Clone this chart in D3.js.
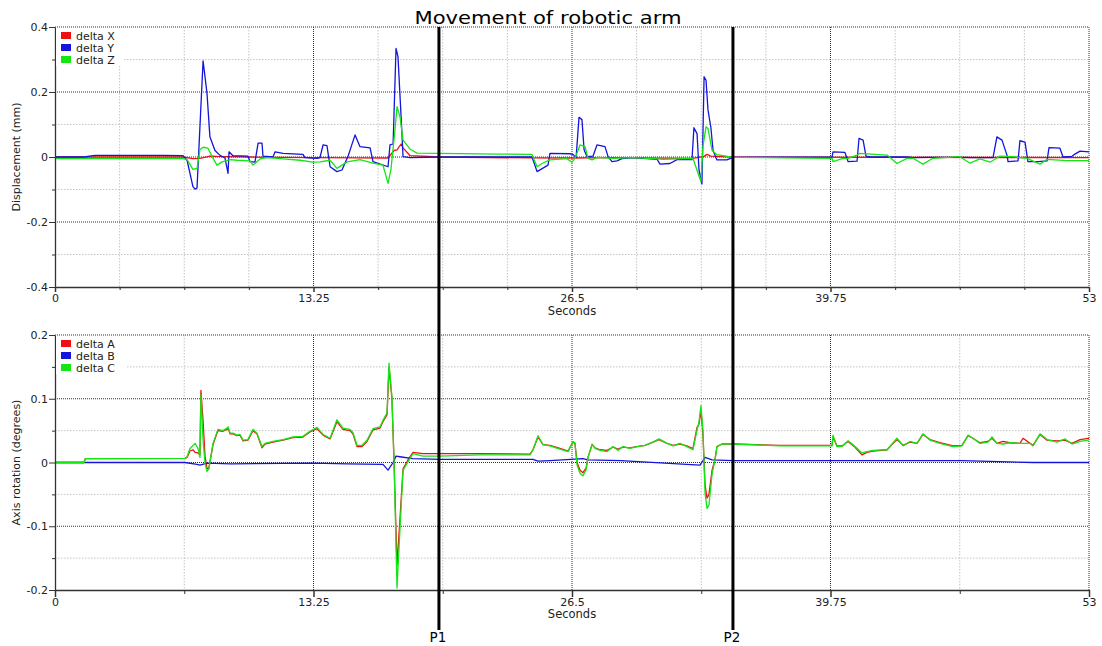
<!DOCTYPE html>
<html>
<head>
<meta charset="utf-8">
<script src="https://cdn.jsdelivr.net/npm/d3@7"></script>
<style>
  body { margin: 0; background: #fff; }
  svg { display: block; font-family: "DejaVu Sans", sans-serif; }
</style>
</head>
<body>
<svg id="svg" width="1102" height="646"></svg>
<script>
// time in seconds, value
var deltaX = [[0,0],[6.56,0],[7.07,-0.005],[7.43,-0.004],[7.94,0.003],[8.30,0.002],[9.99,0],[13.22,-0.002],[15.63,-0.003],[17.07,-0.003],[17.38,0.02],[17.53,0.022],[17.74,0.04],[17.84,0.028],[18.20,0.004],[19.73,0],[24.45,-0.003],[26.50,-0.003],[28.60,-0.002],[32.70,-0.004],[33.27,0.002],[33.42,0.008],[33.62,0.003],[34.75,0],[53,-0.002]];
var deltaY = [[0,0],[1.49,0],[2.05,0.005],[5.54,0.005],[6.56,0.004],[6.77,-0.01],[7.07,-0.091],[7.18,-0.099],[7.28,-0.095],[7.59,0.296],[7.79,0.197],[7.94,0.062],[8.20,0.02],[8.46,0.005],[8.71,-0.003],[8.87,-0.05],[8.92,0.016],[9.12,0.004],[9.89,0.003],[9.99,-0.014],[10.25,-0.016],[10.41,0.043],[10.61,0.043],[10.66,0.003],[11.17,0.0],[11.28,0.016],[11.69,0.011],[12.71,0.008],[12.81,-0.002],[13.43,-0.004],[13.58,-0.002],[13.74,0.037],[13.94,0.035],[14.10,-0.03],[14.45,-0.045],[14.71,-0.04],[15.02,0.002],[15.38,0.068],[15.63,0.032],[16.15,0.028],[16.30,-0.014],[17.07,-0.03],[17.17,0.037],[17.33,0.04],[17.48,0.334],[17.58,0.309],[17.74,0.124],[17.84,0.001],[18.20,-0.002],[19.73,0],[24.45,0],[24.71,-0.045],[25.27,-0.025],[25.37,0.011],[26.40,0.01],[26.55,0.008],[26.71,-0.002],[26.86,0.122],[27.01,0.115],[27.12,0.022],[27.27,0.001],[27.58,0.003],[27.78,0.037],[28.19,0.032],[28.35,0.001],[28.55,-0.014],[28.81,-0.012],[29.06,-0.005],[29.63,-0.002],[30.34,-0.005],[30.86,-0.007],[31.01,-0.022],[31.52,-0.02],[31.88,-0.008],[32.65,-0.008],[32.75,0.09],[32.91,0.072],[33.01,-0.04],[33.16,-0.083],[33.27,0.247],[33.37,0.236],[33.47,0.145],[33.62,0.09],[33.73,0.02],[33.93,-0.009],[34.44,-0.009],[34.75,-0.001],[39.83,0],[39.88,0.016],[40.49,0.014],[40.65,-0.014],[41.11,-0.013],[41.21,0.057],[41.42,0.052],[41.57,0.003],[41.77,0.0],[43.67,0],[43.98,-0.002],[44.85,-0.001],[46.39,-0.001],[47.05,-0.002],[48.08,-0.002],[48.28,0.062],[48.54,0.052],[48.80,0.005],[48.85,-0.014],[49.36,-0.012],[49.46,0.05],[49.72,0.046],[49.87,-0.014],[50.39,-0.014],[50.85,-0.012],[50.95,0.029],[51.51,0.027],[51.67,0.0],[52.13,0.002],[52.28,0.009],[52.54,0.018],[53,0.016]];
var deltaZ = [[0,-0.005],[1.49,-0.005],[6.56,-0.005],[6.77,-0.008],[7.07,-0.038],[7.28,-0.035],[7.43,0.022],[7.59,0.03],[7.84,0.027],[8.05,0.002],[8.30,-0.025],[8.56,-0.015],[8.97,-0.008],[9.33,-0.01],[9.99,-0.012],[10.15,-0.025],[10.51,-0.006],[10.87,-0.002],[11.69,-0.006],[12.56,-0.01],[13.22,-0.016],[13.58,-0.015],[14.10,-0.01],[14.45,-0.035],[14.97,-0.015],[15.63,-0.008],[16.30,-0.019],[16.81,-0.025],[17.07,-0.081],[17.22,-0.038],[17.43,0.085],[17.53,0.155],[17.68,0.125],[17.84,0.052],[18.20,0.024],[18.56,0.012],[19.73,0.011],[22.81,0.009],[24.45,0.008],[24.71,-0.03],[24.96,-0.02],[25.37,-0.009],[26.24,-0.005],[26.50,-0.016],[26.65,-0.005],[26.91,0.037],[27.17,0.032],[27.32,-0.004],[27.53,-0.009],[27.78,-0.001],[28.60,-0.004],[29.63,-0.002],[30.86,-0.006],[31.16,-0.007],[32.70,-0.004],[32.96,-0.05],[33.11,-0.076],[33.21,0.032],[33.37,0.093],[33.47,0.088],[33.68,0.02],[33.93,0.007],[34.75,-0.001],[39.83,-0.004],[39.88,-0.014],[40.34,-0.005],[40.65,-0.004],[41.11,0.006],[41.26,0.011],[42.65,0.006],[43.16,-0.02],[43.67,-0.004],[43.98,-0.004],[44.49,-0.022],[45.00,-0.004],[46.39,0.001],[46.90,-0.019],[47.41,-0.006],[47.93,-0.016],[48.44,0.003],[49.10,0.001],[49.82,-0.004],[50.49,-0.022],[50.85,-0.007],[51.87,-0.011],[53,-0.011]];

var deltaA = [[0,0],[1.49,0],[1.55,0.006],[6.66,0.0065],[6.77,0.008],[6.92,0.018],[7.07,0.02],[7.18,0.016],[7.33,0.015],[7.43,0.012],[7.48,0.113],[7.59,0.065],[7.69,0.01],[7.79,-0.01],[7.89,-0.008],[8.10,0.028],[8.35,0.05],[8.61,0.049],[8.82,0.052],[8.87,0.054],[8.97,0.045],[9.12,0.045],[9.33,0.042],[9.48,0.043],[9.64,0.034],[9.89,0.035],[10.15,0.05],[10.35,0.045],[10.61,0.023],[10.76,0.029],[11.17,0.032],[11.69,0.035],[12.20,0.039],[12.71,0.04],[13.07,0.048],[13.43,0.053],[13.74,0.043],[14.10,0.037],[14.45,0.064],[14.76,0.052],[15.12,0.05],[15.27,0.045],[15.48,0.025],[15.74,0.025],[15.99,0.033],[16.30,0.051],[16.66,0.054],[16.81,0.064],[17.02,0.075],[17.12,0.15],[17.27,0.1],[17.38,0.0],[17.53,-0.161],[17.68,-0.09],[17.84,-0.01],[18.09,0.004],[18.35,0.016],[18.86,0.014],[19.73,0.014],[21.78,0.014],[24.35,0.013],[24.50,0.02],[24.76,0.04],[25.01,0.028],[25.37,0.027],[25.88,0.022],[26.30,0.018],[26.55,0.032],[26.65,0.03],[26.76,0.0],[26.91,-0.012],[27.06,-0.016],[27.22,-0.009],[27.32,0.008],[27.53,0.028],[27.68,0.023],[27.94,0.02],[28.29,0.019],[28.60,0.024],[28.86,0.021],[29.11,0.024],[29.47,0.023],[29.83,0.025],[30.24,0.027],[30.65,0.032],[30.96,0.036],[31.37,0.03],[31.68,0.027],[32.04,0.029],[32.39,0.026],[32.70,0.022],[32.91,0.055],[33.01,0.06],[33.11,0.082],[33.21,0.045],[33.32,-0.035],[33.42,-0.056],[33.52,-0.05],[33.68,-0.012],[33.83,0.005],[33.93,0.025],[34.19,0.029],[34.75,0.029],[37.16,0.027],[39.83,0.027],[39.88,0.04],[40.08,0.026],[40.34,0.026],[40.65,0.033],[41.01,0.024],[41.36,0.012],[41.62,0.016],[41.93,0.018],[42.65,0.02],[42.90,0.028],[43.16,0.036],[43.47,0.027],[43.82,0.032],[44.18,0.03],[44.49,0.044],[44.85,0.036],[45.36,0.031],[46.03,0.026],[46.49,0.027],[46.80,0.042],[47.05,0.038],[47.41,0.031],[47.82,0.033],[48.03,0.038],[48.28,0.03],[48.59,0.033],[48.95,0.031],[49.46,0.03],[49.62,0.038],[49.98,0.03],[50.13,0.027],[50.49,0.044],[50.85,0.035],[51.36,0.034],[51.77,0.035],[52.13,0.03],[52.54,0.036],[52.95,0.038],[53,0.038]];
var deltaB = [[0,0],[6.66,0],[7.28,-0.003],[7.43,-0.004],[7.79,-0.001],[9.0,-0.002],[13.22,-0.001],[15.0,-0.002],[16.81,-0.003],[17.07,-0.012],[17.33,0.0],[17.48,0.01],[17.68,0.009],[18.35,0.006],[19.73,0.005],[24.50,0.005],[24.76,0.002],[25.37,0.003],[27.06,0.006],[27.32,0.004],[29.0,0.003],[33.06,-0.004],[33.32,0.008],[33.68,0.004],[34.75,0.003],[46.49,0.003],[50.13,0.0],[53,0.0]];
var deltaC = [[0,0],[1.49,0],[1.55,0.006],[6.66,0.0065],[6.77,0.009],[6.92,0.022],[7.18,0.03],[7.33,0.022],[7.43,0.008],[7.48,0.106],[7.59,0.035],[7.69,-0.001],[7.79,-0.014],[7.89,-0.01],[8.10,0.03],[8.35,0.052],[8.61,0.05],[8.82,0.054],[8.87,0.056],[8.97,0.046],[9.12,0.046],[9.33,0.043],[9.48,0.044],[9.64,0.035],[9.89,0.036],[10.15,0.052],[10.35,0.046],[10.61,0.025],[10.76,0.03],[11.17,0.033],[11.69,0.036],[12.20,0.04],[12.71,0.041],[13.07,0.049],[13.43,0.055],[13.74,0.044],[14.10,0.038],[14.45,0.067],[14.76,0.054],[15.12,0.052],[15.27,0.047],[15.48,0.027],[15.74,0.027],[15.99,0.035],[16.30,0.053],[16.66,0.056],[16.81,0.066],[17.02,0.078],[17.12,0.156],[17.27,0.103],[17.38,0.0],[17.53,-0.197],[17.68,-0.106],[17.84,-0.012],[18.09,0.001],[18.35,0.014],[18.86,0.010],[19.73,0.010],[21.78,0.012],[24.35,0.012],[24.50,0.02],[24.76,0.042],[25.01,0.028],[25.37,0.026],[25.88,0.021],[26.30,0.017],[26.55,0.033],[26.65,0.031],[26.76,-0.004],[26.91,-0.017],[27.06,-0.021],[27.22,-0.012],[27.32,0.008],[27.53,0.029],[27.68,0.022],[27.94,0.019],[28.29,0.017],[28.60,0.025],[28.86,0.019],[29.11,0.025],[29.47,0.022],[29.83,0.025],[30.24,0.027],[30.65,0.032],[30.96,0.037],[31.37,0.03],[31.68,0.026],[32.04,0.03],[32.39,0.025],[32.70,0.02],[32.91,0.051],[33.01,0.064],[33.11,0.089],[33.21,0.051],[33.32,-0.048],[33.42,-0.072],[33.52,-0.067],[33.68,-0.018],[33.83,0.004],[33.93,0.025],[34.19,0.029],[34.75,0.029],[37.16,0.026],[39.83,0.026],[39.88,0.043],[40.08,0.025],[40.34,0.025],[40.65,0.034],[41.01,0.025],[41.36,0.015],[41.62,0.017],[41.93,0.019],[42.65,0.02],[42.90,0.029],[43.16,0.038],[43.47,0.026],[43.82,0.033],[44.18,0.03],[44.49,0.045],[44.85,0.035],[45.36,0.03],[46.03,0.025],[46.49,0.026],[46.80,0.043],[47.05,0.038],[47.41,0.03],[47.82,0.032],[48.03,0.04],[48.28,0.03],[48.59,0.029],[48.95,0.031],[49.46,0.03],[49.98,0.03],[50.13,0.026],[50.49,0.045],[50.85,0.036],[51.36,0.032],[51.77,0.037],[52.13,0.029],[52.54,0.033],[52.95,0.035],[53,0.035]];

var xTicks = [0, 13.25, 26.5, 39.75, 53];
var topYTicks = [-0.4, -0.2, 0, 0.2, 0.4];
var botYTicks = [-0.2, -0.1, 0, 0.1, 0.2];
var markers = [['P1', 19.68], ['P2', 34.75]];

var red = '#ee1111', blue = '#1414dc', green = '#14e614';

(function () {
    var svg = d3.select('#svg');
    var x = d3.scaleLinear().domain([0, 53]).range([55, 1089]);

    // title, stretched to the reference width
    svg.append('text')
        .attr('x', 548).attr('y', 24)
        .attr('text-anchor', 'middle')
        .attr('textLength', 267).attr('lengthAdjust', 'spacingAndGlyphs')
        .style('font-size', '18px')
        .text('Movement of robotic arm');

    function panel(p) {
        var y = d3.scaleLinear().domain(p.domain).range([p.bottom, p.top]);
        var g = svg.append('g');
        var lo = p.domain[0], hi = p.domain[1];
        var isMajorX = function (v) { return Math.abs(v / 13.25 - Math.round(v / 13.25)) < 1e-6; };
        var isMajorY = function (v) { return Math.abs(v / p.yMajorStep - Math.round(v / p.yMajorStep)) < 1e-6; };
        var xs = d3.range(0, 53 + 1e-6, p.xMinorStep);
        var ys = d3.range(0, Math.round((hi - lo) / p.yMinorStep) + 1).map(function (i) { return lo + i * p.yMinorStep; });

        // minor grid
        g.selectAll('.vmin').data(xs.filter(function (v) { return !isMajorX(v); })).enter().append('line')
            .attr('x1', x).attr('x2', x).attr('y1', p.top).attr('y2', p.bottom)
            .attr('stroke', '#c4c4c4').attr('stroke-dasharray', '1.5,1.5');
        g.selectAll('.hmin').data(ys.filter(function (v) { return !isMajorY(v); })).enter().append('line')
            .attr('x1', 55).attr('x2', 1089).attr('y1', y).attr('y2', y)
            .attr('stroke', '#c4c4c4').attr('stroke-dasharray', '1.5,1.5');
        // major grid (incl. top and right border)
        g.selectAll('.vmaj').data(xTicks.slice(1)).enter().append('line')
            .attr('x1', x).attr('x2', x).attr('y1', p.top).attr('y2', p.bottom)
            .attr('stroke', '#333').attr('stroke-dasharray', '1,1');
        g.selectAll('.hmaj').data(p.yTicks.slice(1)).enter().append('line')
            .attr('x1', 55).attr('x2', 1089).attr('y1', y).attr('y2', y)
            .attr('stroke', '#333').attr('stroke-dasharray', '1,1');

        // series
        var line = d3.line().x(function (d) { return x(d[0]); }).y(function (d) { return y(d[1]); });
        g.selectAll('.series').data(p.series).enter().append('path')
            .attr('d', function (s) { return line(s.data); })
            .attr('fill', 'none')
            .attr('stroke', function (s) { return s.color; })
            .attr('stroke-width', 1.3)
            .attr('stroke-linejoin', 'round');

        // axes
        var fmt = function (d) { return String(d); };
        var ax = g.append('g').attr('transform', 'translate(55,0)')
            .call(d3.axisLeft(y).tickValues(ys.filter(function (v) { return !isMajorY(v); })).tickSize(3).tickSizeOuter(0).tickFormat(''));
        ax.select('.domain').remove();
        var ay = g.append('g').attr('transform', 'translate(55,0)')
            .call(d3.axisLeft(y).tickValues(p.yTicks).tickSize(6).tickSizeOuter(0).tickPadding(1).tickFormat(fmt));
        var bx = g.append('g').attr('transform', 'translate(0,' + p.bottom + ')')
            .call(d3.axisBottom(x).tickValues(xs.filter(function (v) { return !isMajorX(v); })).tickSize(p.minorTick).tickSizeOuter(0).tickFormat(''));
        bx.select('.domain').remove();
        var mx = g.append('g').attr('transform', 'translate(0,' + p.bottom + ')')
            .call(d3.axisBottom(x).tickValues(xTicks).tickSize(p.majorTick).tickSizeOuter(0).tickPadding(p.xPad).tickFormat(fmt));
        [ax, ay, bx, mx].forEach(function (a) {
            a.selectAll('line').attr('stroke', '#333');
            a.selectAll('text').style('font-size', '11px').attr('fill', '#222').style('font-family', '"DejaVu Sans", sans-serif');
            a.select('.domain').attr('stroke', '#333').attr('stroke-width', 1.3);
        });
        mx.selectAll('.tick line').attr('stroke-width', 1.5);

        g.append('text')
            .attr('x', 572).attr('y', p.bottom + 28)
            .attr('text-anchor', 'middle').style('font-size', '11.5px').attr('fill', '#222')
            .text('Seconds');
        g.append('text')
            .attr('transform', 'translate(20,' + y(0) + ') rotate(-90)')
            .attr('text-anchor', 'middle').style('font-size', '11px').attr('fill', '#222')
            .text(p.yLabel);

        // legend
        var lg = g.append('g');
        lg.append('rect').attr('x', 56).attr('y', p.top + 1).attr('width', p.legendW).attr('height', 38).attr('fill', '#fff');
        var item = lg.selectAll('.item').data(p.series).enter().append('g')
            .attr('transform', function (d, i) { return 'translate(61,' + (p.top + 5 + i * 12) + ')'; });
        item.append('rect').attr('width', 10).attr('height', 7).attr('fill', function (d) { return d.color; });
        item.append('text').attr('x', 15).attr('y', 7.5).style('font-size', '11px').attr('fill', '#222')
            .text(function (d) { return d.name; });
    }

    panel({
        top: 27, bottom: 287, domain: [-0.4, 0.4], yTicks: topYTicks, yMajorStep: 0.2, yMinorStep: 0.1,
        xMinorStep: 53 / 16, minorTick: 3, majorTick: 5, xPad: 2, legendW: 67,
        yLabel: 'Displacement (mm)',
        series: [{ name: 'delta X', color: red, data: deltaX }, { name: 'delta Y', color: blue, data: deltaY }, { name: 'delta Z', color: green, data: deltaZ }]
    });
    panel({
        top: 335, bottom: 590, domain: [-0.2, 0.2], yTicks: botYTicks, yMajorStep: 0.1, yMinorStep: 0.05,
        xMinorStep: 53 / 8, minorTick: 4, majorTick: 7, xPad: 1, legendW: 70,
        yLabel: 'Axis rotation (degrees)',
        series: [{ name: 'delta A', color: red, data: deltaA }, { name: 'delta B', color: blue, data: deltaB }, { name: 'delta C', color: green, data: deltaC }]
    });

    // position markers across both panels
    var m = svg.selectAll('.marker').data(markers).enter().append('g');
    m.append('line')
        .attr('x1', function (d) { return x(d[1]); }).attr('x2', function (d) { return x(d[1]); })
        .attr('y1', 27).attr('y2', 630)
        .attr('stroke', '#000').attr('stroke-width', 3);
    m.append('text')
        .attr('x', function (d) { return x(d[1]) - 1; }).attr('y', 642)
        .attr('text-anchor', 'middle').style('font-size', '13.5px')
        .text(function (d) { return d[0]; });
})();
</script>
</body>
</html>
